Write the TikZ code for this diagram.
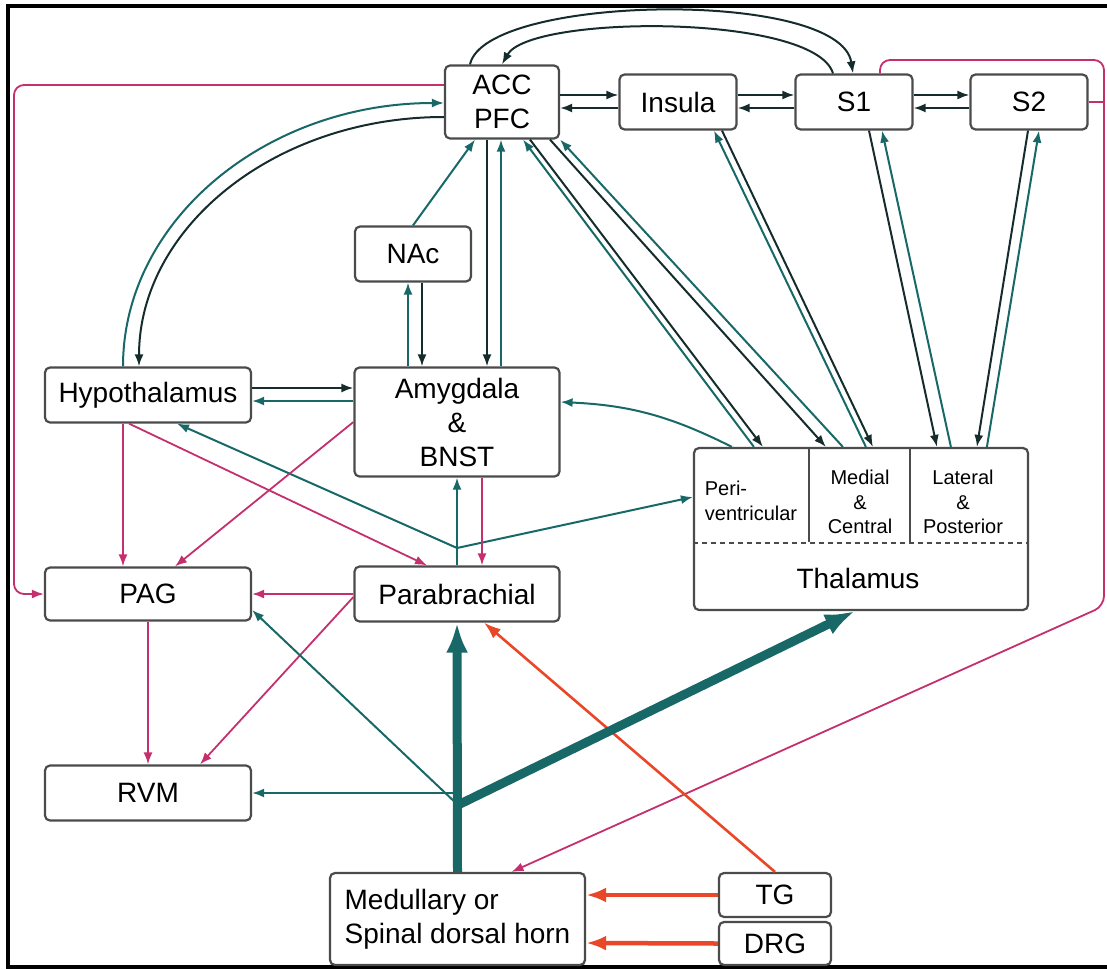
\documentclass[tikz,border=0pt]{standalone}
\usepackage{fontspec}
\setmainfont{Liberation Sans}
\usetikzlibrary{arrows.meta}
\definecolor{tealc}{RGB}{24,104,104}
\definecolor{darkc}{RGB}{22,44,44}
\definecolor{pinkc}{RGB}{196,48,110}
\definecolor{redc}{RGB}{232,72,40}
\definecolor{boxc}{RGB}{75,75,75}
\newcommand{\boxfont}{\fontsize{28}{34}\selectfont}
\newcommand{\subfont}{\fontsize{20}{24.5}\selectfont}

\begin{document}
\begin{tikzpicture}[x=1pt, y=-1pt,
   region/.style={draw=boxc, line width=2.2pt, rounded corners=5pt, fill=white, inner sep=0pt, align=center, font=\boxfont},
   thinhead/.style={-{Latex[length=12pt,width=9pt]}},
   darkarr/.style={draw=darkc, line width=2pt, thinhead},
   tealarr/.style={draw=tealc, line width=2pt, thinhead},
   pinkarr/.style={draw=pinkc, line width=1.8pt, thinhead},
   redarr/.style={draw=redc, line width=2.6pt, -{Latex[length=17pt,width=12pt]}},
   redthick/.style={draw=redc, line width=4.5pt, -{Latex[length=20pt,width=15pt]}},
   tealthick/.style={draw=tealc, line width=9pt, -{Latex[length=30pt,width=22pt]}}]
   \useasboundingbox (0,0) rectangle (1107,969);
   \draw[line width=4pt] (1107,6) -- (8,6) -- (8,967) -- (1107,967);

   % regions
   \node[region, minimum width=114pt, minimum height=73pt] (acc) at (502,102) {ACC\\PFC};
   \node[region, minimum width=117pt, minimum height=55pt] (insula) at (678,102) {Insula};
   \node[region, minimum width=117pt, minimum height=55pt] (sone) at (854,102) {S1};
   \node[region, minimum width=117pt, minimum height=55pt] (stwo) at (1029,102) {S2};
   \node[region, minimum width=116pt, minimum height=55pt] (nac) at (413,254) {NAc};
   \node[region, minimum width=206pt, minimum height=55pt] (hypo) at (148,395) {Hypothalamus};
   \node[region, minimum width=205pt, minimum height=109pt] (amyg) at (457,422) {Amygdala\\\&\\BNST};
   \node[region, minimum width=206pt, minimum height=53pt] (pag) at (148,594) {PAG};
   \node[region, minimum width=205pt, minimum height=55pt] (para) at (457,594) {Parabrachial};
   \node[region, minimum width=206pt, minimum height=55pt] (rvm) at (148,793) {RVM};
   \node[region, minimum width=334pt, minimum height=162pt] (thal) at (861,529) {};
   \node[region, minimum width=255pt, minimum height=92pt, align=left] (med) at (457.5,919) {Medullary or\\Spinal dorsal horn};
   \node[region, minimum width=112pt, minimum height=44pt] (tg) at (775,895) {TG};
   \node[region, minimum width=112pt, minimum height=43pt] (drg) at (775,943.5) {DRG};

   % thalamus subdivisions
   \draw[boxc, line width=1.5pt] ([xshift=116pt]thal.north west) -- ++(0,95);
   \draw[boxc, line width=1.5pt] ([xshift=217pt]thal.north west) -- ++(0,95);
   \draw[boxc, line width=1.2pt, dash pattern=on 5pt off 4pt] ([yshift=-14pt]thal.west) -- ([yshift=-14pt]thal.east);
   \node[font=\subfont, align=left] (peri) at (751,501) {Peri-\\ventricular};
   \node[font=\subfont, align=center] (medial) at (860,502) {Medial\\\&\\Central};
   \node[font=\subfont, align=center] (lateral) at (963,502) {Lateral\\\&\\Posterior};
   \node[font=\boxfont] (thaltitle) at (858,578) {Thalamus};

   \coordinate (jpara) at (457,548);
   \coordinate (jspine) at (458,805);
   \coordinate (lbend) at (14,85);
   \coordinate (ptop) at (1104,60);
   \coordinate (pbot) at (1104,606);

   % cortex row
   \draw[darkarr] ([yshift=7pt]acc.east) -- ([yshift=7pt]insula.west);
   \draw[darkarr] ([yshift=-6pt]insula.west) -- ([yshift=-6pt]acc.east);
   \draw[darkarr] ([yshift=7pt]insula.east) -- ([yshift=7pt]sone.west);
   \draw[darkarr] ([yshift=-6pt]sone.west) -- ([yshift=-6pt]insula.east);
   \draw[darkarr] ([yshift=7pt]sone.east) -- ([yshift=7pt]stwo.west);
   \draw[darkarr] ([yshift=-6pt]stwo.west) -- ([yshift=-6pt]sone.east);
   \draw[darkarr] ([xshift=-32pt]acc.north) .. controls +(15,-70) and +(-13,-85) .. ([xshift=-1pt]sone.north);
   \draw[darkarr] ([xshift=-21pt]sone.north) .. controls +(-18,-60) and +(28,-50) .. (acc.north);

   % hypothalamus, NAc, amygdala
   \draw[tealarr] ([xshift=-25pt]hypo.north) .. controls +(0,-146) and +(-178,0) .. ([yshift=-1pt]acc.west);
   \draw[darkarr] ([yshift=-15pt]acc.west) .. controls +(-169,0) and +(0,-139) .. ([xshift=-9pt]hypo.north);
   \draw[tealarr] (nac.north) -- ([xshift=-27pt]acc.south);
   \draw[tealarr] ([xshift=-49pt]amyg.north) -- ([xshift=-5pt]nac.south);
   \draw[darkarr] ([xshift=9pt]nac.south) -- ([xshift=-35pt]amyg.north);
   \draw[darkarr] ([xshift=-15pt]acc.south) -- ([xshift=30pt]amyg.north);
   \draw[tealarr] ([xshift=44pt]amyg.north) -- ([xshift=-1pt]acc.south);
   \draw[darkarr] ([yshift=7pt]hypo.east) -- ([yshift=7pt]hypo.east -| amyg.west);
   \draw[tealarr] ([yshift=-6pt]hypo.east -| amyg.west) -- ([yshift=-6pt]hypo.east);

   % thalamus to cortex
   \draw[tealarr] ([xshift=61pt]thal.north west) -- ([xshift=21pt]acc.south);
   \draw[darkarr] ([xshift=28pt]acc.south) -- ([xshift=70pt]thal.north west);
   \draw[darkarr] ([xshift=48pt]acc.south) -- ([xshift=133pt]thal.north west);
   \draw[tealarr] ([xshift=150pt]thal.north west) -- (acc.south east);
   \draw[tealarr] ([xshift=173pt]thal.north west) -- ([xshift=36pt]insula.south);
   \draw[darkarr] ([xshift=44pt]insula.south) -- ([xshift=180pt]thal.north west);
   \draw[darkarr] ([xshift=15pt]sone.south) -- ([xshift=244pt]thal.north west);
   \draw[tealarr] ([xshift=258pt]thal.north west) -- ([xshift=28pt]sone.south);
   \draw[darkarr] ([xshift=-1pt]stwo.south) -- ([xshift=284pt]thal.north west);
   \draw[tealarr] ([xshift=294pt]thal.north west) -- ([xshift=10pt]stwo.south);
   \draw[tealarr] ([xshift=39pt]thal.north west) to[bend right=12] ([yshift=20pt]amyg.east);

   % parabrachial outputs
   \draw[tealarr] (para.north) -- (amyg.south);
   \draw[tealarr] (jpara) -- ([xshift=29pt]hypo.south);
   \draw[tealarr] (jpara) -- ([yshift=32pt]thal.west);

   % descending
   \draw[pinkarr] ([xshift=25pt]amyg.south) -- ([xshift=25pt]para.north);
   \draw[pinkarr] ([xshift=-25pt]hypo.south) -- ([xshift=-25pt]pag.north);
   \draw[pinkarr] ([xshift=-19pt]hypo.south) -- ([xshift=-30pt]para.north);
   \draw[pinkarr] (amyg.west) -- ([xshift=27pt]pag.north);
   \draw[pinkarr] (para.west) -- (pag.east);
   \draw[pinkarr] ([yshift=-3pt]para.west) -- ([xshift=52pt]rvm.north);
   \draw[pinkarr] (pag.south) -- (rvm.north);
   \draw[pinkarr, rounded corners=10pt] ([yshift=17pt]acc.west) -- (lbend) |- (pag.west);
   \draw[pinkarr, rounded corners=10pt] ([xshift=26pt]sone.north) |- (ptop) -- (pbot) -- ([xshift=54pt]med.north);
   \draw[pinkc, line width=1.8pt] (stwo.east) -- (stwo.east -| ptop);

   % ascending
   \draw[tealarr] (jspine |- rvm.east) -- (rvm.east);
   \draw[tealarr] (jspine) -- ([yshift=-16pt]pag.east);
   \draw[redarr] (tg.north) -- ([xshift=27pt]para.south);
   \draw[tealthick] (med.north) -- (para.south);
   \draw[tealthick] (jspine) -- ([xshift=-6pt]thal.south);
   \draw[redthick] (tg.west) -- ([yshift=24pt]med.east);
   \draw[redthick] (drg.west) -- ([yshift=-24pt]med.east);
\end{tikzpicture}
\end{document}
